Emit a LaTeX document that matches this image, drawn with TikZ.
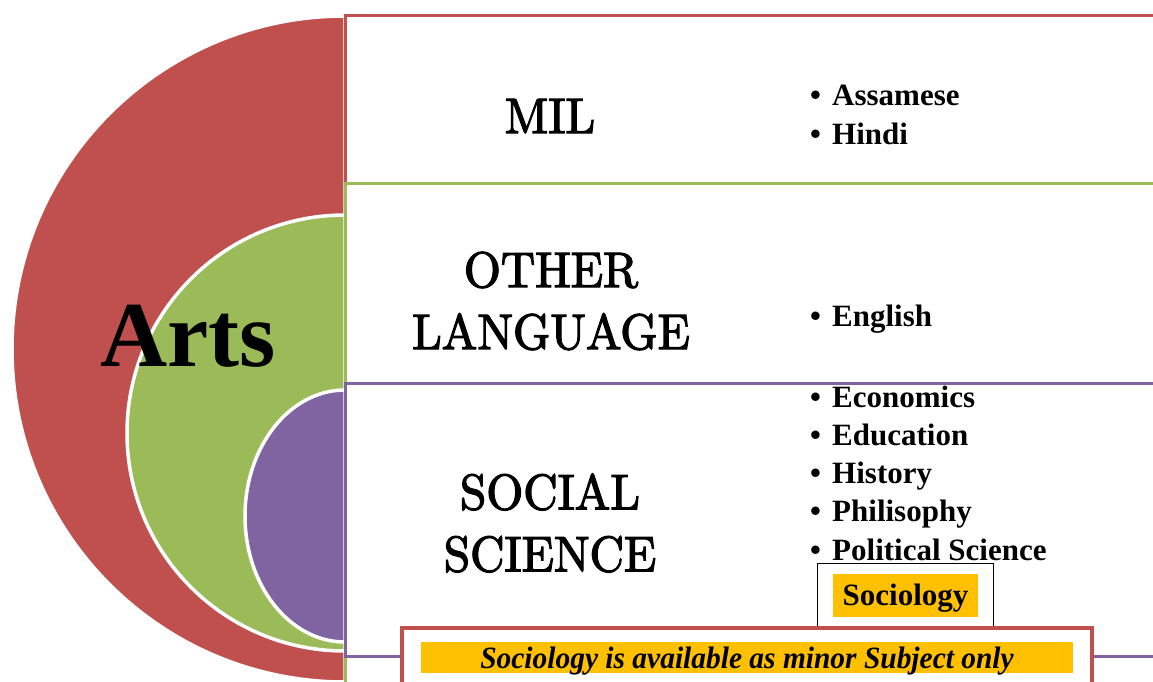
\documentclass[tikz,border=0pt]{standalone}
\usepackage{fontspec}
\newfontfamily\tnr{Liberation Serif}
\newfontfamily\tnrc[FakeStretch=0.95]{Liberation Serif}
\newfontfamily\headf[FakeBold=2.5,FakeStretch=0.95]{lmroman10-regular.otf}
\definecolor{cred}{HTML}{C0504D}
\definecolor{cgreen}{HTML}{9BBB59}
\definecolor{cpurple}{HTML}{8064A2}
\definecolor{cyellow}{HTML}{FFC000}
\begin{document}
\begin{tikzpicture}[x=1pt,y=-1pt,
  disk/.style={draw=white,line width=3.5pt},
  band/.style={fill=white,line width=3pt},
  head/.style={font=\headf\fontsize{50}{62}\selectfont, align=center, inner sep=0},
  item/.style={font=\tnr\bfseries\fontsize{31}{38}\selectfont, anchor=base west, inner sep=0},
  ]
\useasboundingbox (0,0) rectangle (1153,681);
\begin{scope}
\clip (0,0) rectangle (1153,681);
\fill[white] (0,0) rectangle (1153,681);
% half disks
\filldraw[disk,fill=cred] (345,16) arc[start angle=-90,end angle=-270,radius=333] -- cycle;
\filldraw[disk,fill=cgreen] (345,215) arc[start angle=-90,end angle=-270,radius=218] -- cycle;
\filldraw[disk,fill=cpurple] (345,390) arc[start angle=-90,end angle=-270,x radius=100,y radius=126] -- cycle;
% bands
\filldraw[band,draw=cred] (345,15) rectangle (1170,200);
\filldraw[band,draw=cgreen] (345,183) rectangle (1170,720);
\filldraw[band,draw=cpurple] (345,383) rectangle (1170,656);
% headings
\node[head] (mil) at (550,116) {MIL};
\node[head] (other) at (551,301) {OTHER\\LANGUAGE};
\node[head] (social) at (550,523) {SOCIAL\\SCIENCE};
\node[font=\tnr\bfseries\fontsize{93}{93}\selectfont, anchor=base, inner sep=0] (arts) at (188,366) {Arts};
% items
\node[item] (b1) at (810,105) {•};
\node[item] (t1) at (832,105) {Assamese};
\node[item] (b2) at (810,144) {•};
\node[item] (t2) at (832,144) {Hindi};
\node[item] (b3) at (810,326) {•};
\node[item] (t3) at (832,326) {English};
\node[item] (b4) at (810,407) {•};
\node[item] (t4) at (832,407) {Economics};
\node[item] (b5) at (810,445) {•};
\node[item] (t5) at (832,445) {Education};
\node[item] (b6) at (810,483) {•};
\node[item] (t6) at (832,483) {History};
\node[item] (b7) at (810,521) {•};
\node[item] (t7) at (832,521) {Philisophy};
\node[item] (b8) at (810,560) {•};
\node[item] (t8) at (832,560) {Political Science};
% sociology box
\filldraw[draw=black,fill=white,line width=1pt] (817,563) rectangle (993,640);
\fill[cyellow] (833,574) rectangle (978,617);
\node[font=\tnr\bfseries\fontsize{31}{38}\selectfont, anchor=base, inner sep=0] (soc) at (905.5,605) {Sociology};
% note box
\filldraw[draw=cred,fill=white,line width=4pt] (402,628) rectangle (1092,720);
\fill[cyellow] (421,642) rectangle (1073,673);
\node[font=\tnrc\bfseries\itshape\fontsize{31}{38}\selectfont, anchor=base, inner sep=0] (note) at (747,668) {Sociology is available as minor Subject only};
\end{scope}
\end{tikzpicture}
\end{document}
